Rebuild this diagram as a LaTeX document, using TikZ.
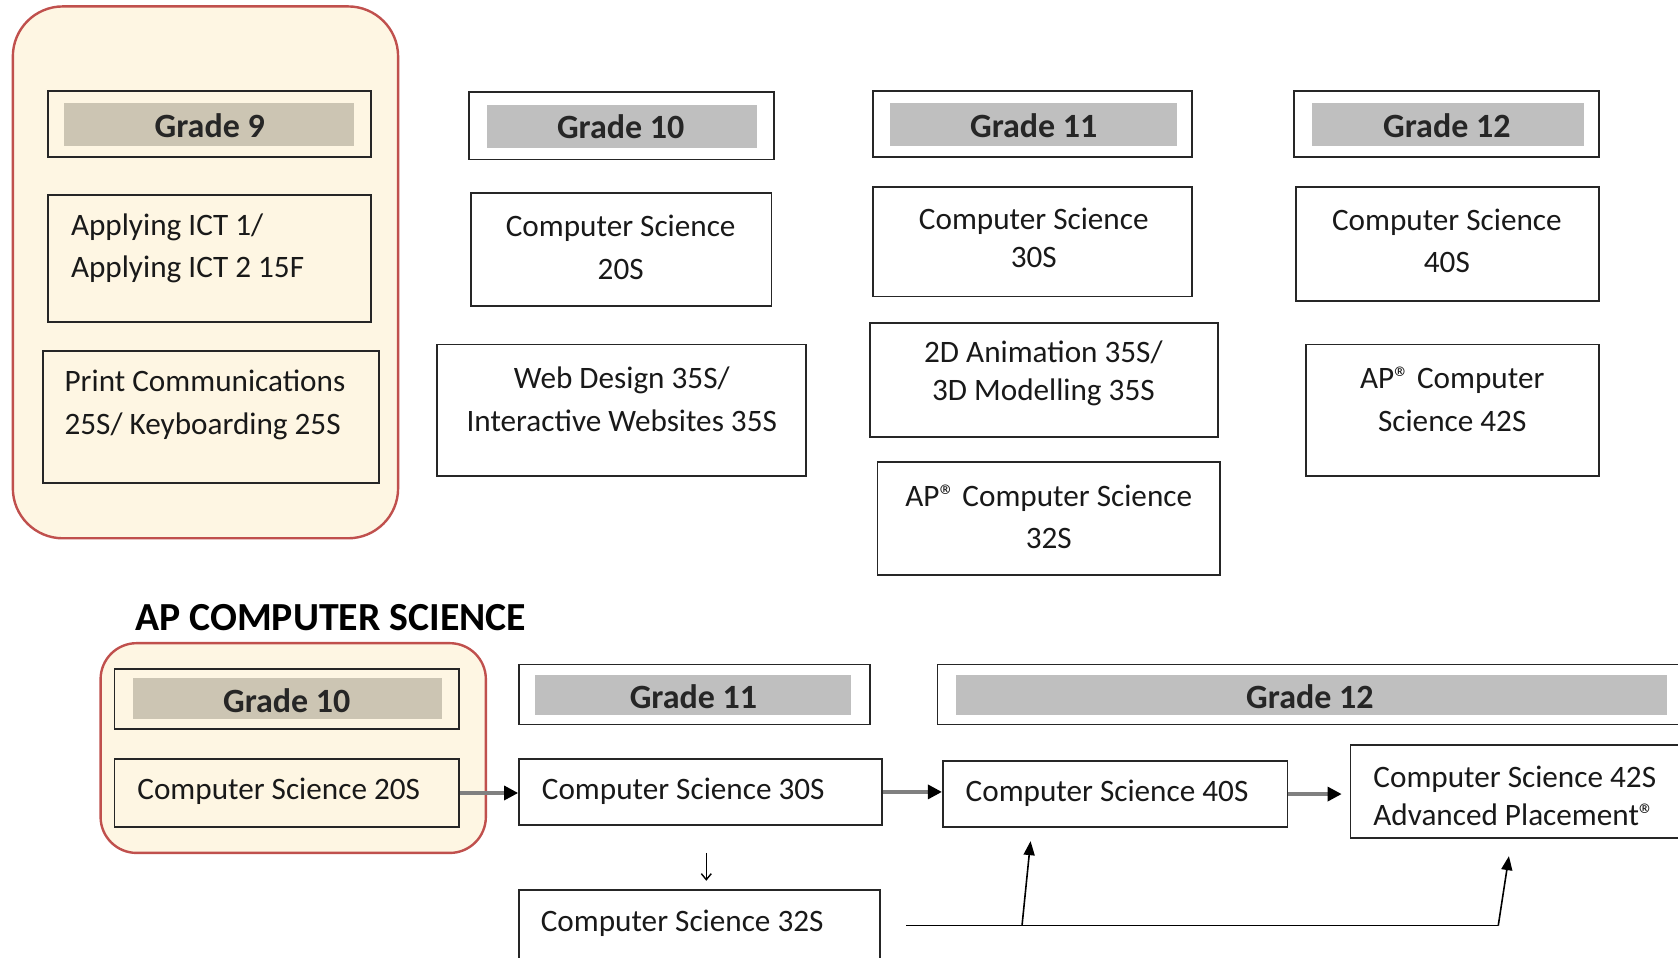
\documentclass[tikz,border=0pt]{standalone}
\usepackage{fontspec}
\setmainfont{Carlito}
\usetikzlibrary{fit,arrows.meta}
\definecolor{cream}{HTML}{FEF6E3}
\definecolor{redb}{HTML}{C0504D}
\definecolor{beig}{HTML}{CCC5B3}
\definecolor{hgray}{HTML}{BFBFBF}
\definecolor{conn}{HTML}{808080}
\newcommand{\txtA}{\fontsize{15.6}{21.4}\selectfont}
\newcommand{\txtB}{\fontsize{15.6}{18.9}\selectfont}
\newcommand{\txtH}{\fontsize{17}{20}\selectfont\bfseries}
\newcommand{\txtT}{\fontsize{19.9}{22}\selectfont\bfseries}
\begin{document}
\begin{tikzpicture}[x=0.5351pt, y=-0.5351pt,
  groupbig/.style={draw=redb, fill=cream, line width=1.2pt, rounded corners=25pt, inner sep=0pt},
  groupsmall/.style={draw=redb, fill=cream, line width=1.2pt, rounded corners=18pt, inner sep=0pt},
  box/.style={draw=black!85, line width=0.9pt, inner sep=0pt},
  shadeb/.style={fill=beig, inner sep=0pt},
  shadeg/.style={fill=hgray, inner sep=0pt},
  hdr/.style={inner sep=0pt, font=\txtH, text=black!85},
  txt/.style={inner sep=0pt, font=\txtA, align=center, text=black!90},
  txtn/.style={inner sep=0pt, font=\txtB, align=center, text=black!90},
  txtl/.style={inner sep=0pt, font=\txtA, align=left, anchor=west, text=black!90},
  txtln/.style={inner sep=0pt, font=\txtB, align=left, anchor=west, text=black!90},
  flow/.style={draw=conn, line width=1.6pt, -{Triangle[length=7pt,width=7pt,fill=black,color=black]}},
  upar/.style={draw=black, line width=0.8pt, -{Triangle[length=7pt,width=5.5pt]}},
  downar/.style={draw=black, line width=0.7pt, -{Straight Barb[length=3pt,width=5pt]}}
]
\useasboundingbox (0,0) rectangle (1568,895);
\clip (0,0) rectangle (1568,895);
\fill[white] (0,0) rectangle (1568,895);

% ---------- top: Grade 9 group ----------
\node[groupbig, fit={(12,6) (372,503)}] (g9grp) {};
\node[box, fit={(45,85) (347,147)}] (g9h) {};
\node[shadeb, fit={(60,96) (331,136)}] (g9s) {};
\node[hdr] (g9t) at (196,117) {Grade 9};
\node[box, fit={(45,182) (347,301)}] (ict) {};
\node[txtl] (ictt) at (66,232) {Applying ICT 1/\\Applying ICT 2 15F};
\node[box, fit={(40,328) (354,451)}] (prc) {};
\node[txtl] (prct) at (60,378) {Print Communications\\25S/ Keyboarding 25S};

% ---------- top: Grade 10 ----------
\node[box, fit={(438,86) (723,149)}] (g10h) {};
\node[shadeg, fit={(455,98) (707,138)}] (g10s) {};
\node[hdr] (g10t) at (580,118) {Grade 10};
\node[box, fit={(440,180) (721,286)}] (cs20) {};
\node[txt] (cs20t) at (580,231) {Computer Science\\20S};
\node[box, fit={(408,322) (753,445)}] (web) {};
\node[txt] (webt) at (581,373) {Web Design 35S/\\Interactive Websites 35S};

% ---------- top: Grade 11 ----------
\node[box, fit={(816,85) (1114,147)}] (g11h) {};
\node[shadeg, fit={(832,96) (1100,136)}] (g11s) {};
\node[hdr] (g11t) at (966,117) {Grade 11};
\node[box, fit={(816,175) (1114,277)}] (cs30) {};
\node[txtn] (cs30t) at (966,222) {Computer Science\\30S};
\node[box, fit={(813,302) (1138,408)}] (anim) {};
\node[txtn] (animt) at (975,349) {2D Animation 35S/\\3D Modelling 35S};
\node[box, fit={(820,432) (1140,537)}] (ap32) {};
\node[txt] (ap32t) at (980,483) {AP® Computer Science\\32S};

% ---------- top: Grade 12 ----------
\node[box, fit={(1209,85) (1494,147)}] (g12h) {};
\node[shadeg, fit={(1226,96) (1480,136)}] (g12s) {};
\node[hdr] (g12t) at (1352,117) {Grade 12};
\node[box, fit={(1211,175) (1494,281)}] (cs40) {};
\node[txt] (cs40t) at (1352,225) {Computer Science\\40S};
\node[box, fit={(1220,322) (1494,445)}] (ap42) {};
\node[txt] (ap42t) at (1357,373) {AP® Computer\\Science 42S};

% ---------- bottom ----------
\node[inner sep=0pt, anchor=west, font=\txtT, text=black] (title) at (126,577) {AP COMPUTER SCIENCE};

\node[groupsmall, fit={(94,601) (454,797)}] (bgrp) {};
\node[box, fit={(107,625) (429,681)}] (bg10h) {};
\node[shadeb, fit={(124,634) (413,672)}] (bg10s) {};
\node[hdr] (bg10t) at (268,655) {Grade 10};
\node[box, fit={(107,709) (429,773)}] (b20) {};
\node[txtl] (b20t) at (128,739) {Computer Science 20S};

\node[box, fit={(485,621) (813,677)}] (bg11h) {};
\node[shadeg, fit={(500,631) (795,668)}] (bg11s) {};
\node[hdr] (bg11t) at (648,651) {Grade 11};
\node[box, fit={(485,709) (824,771)}] (b30) {};
\node[txtl] (b30t) at (506,739) {Computer Science 30S};
\node[box, fit={(485,832) (822,905)}] (b32) {};
\node[txtl] (b32t) at (505,863) {Computer Science 32S};

\node[box, fit={(876,621) (1590,677)}] (bg12h) {};
\node[shadeg, fit={(893,631) (1558,668)}] (bg12s) {};
\node[hdr] (bg12t) at (1224,651) {Grade 12};
\node[box, fit={(881,711) (1203,773)}] (b40) {};
\node[txtl] (b40t) at (902,741) {Computer Science 40S};
\node[box, fit={(1262,696) (1590,783)}] (b42) {};
\node[txtln] (b42t) at (1283,744) {Computer Science 42S\\Advanced Placement®};

% connectors
\draw[flow] (b20.east) -- (b30.west |- b20.east);
\draw[flow] (b30.east) -- (b40.west |- b30.east);
\draw[flow, shorten >=4pt] (b40.east) -- (b42.west |- b40.east);

\coordinate (d1) at (660,797);
\coordinate (d2) at (660,823);
\draw[downar] (d1) -- (d2);

\coordinate (s0) at (847,865);
\coordinate (j1) at (955,865);
\coordinate (j2) at (1400,865);
\coordinate (e1) at (963,786);
\coordinate (e2) at (1410,800);
\draw[black, line width=0.8pt] (s0) -- (j2);
\draw[upar] (j1) -- (e1);
\draw[upar] (j2) -- (e2);
\end{tikzpicture}
\end{document}
